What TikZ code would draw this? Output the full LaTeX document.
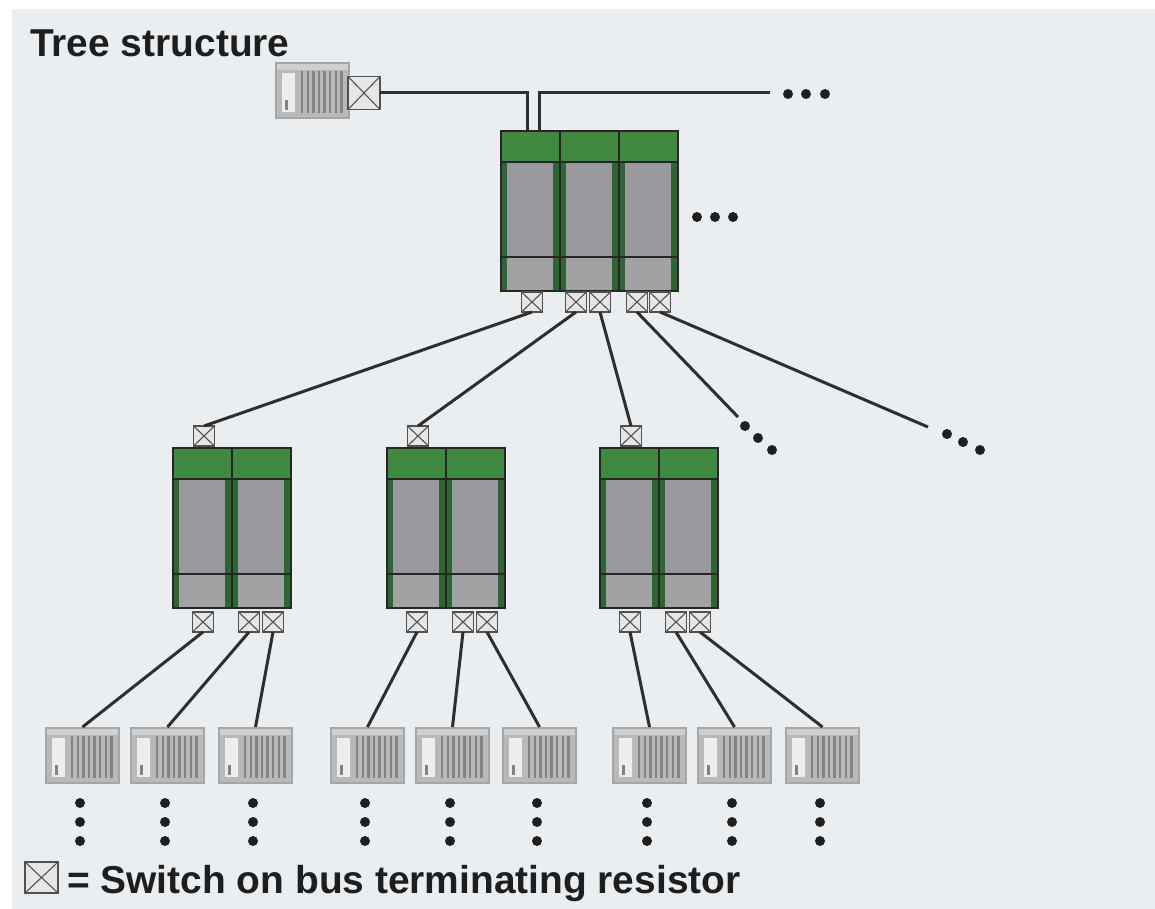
\documentclass[tikz,border=0pt]{standalone}
\usepackage{fontspec}
\setmainfont{Liberation Sans}
\definecolor{bg}{HTML}{EAEEF1}
\definecolor{grn}{HTML}{3F8A40}
\definecolor{dgrn}{HTML}{2E6534}
\definecolor{mgray}{HTML}{9A9A9E}
\definecolor{lgray}{HTML}{A2A2A4}
\definecolor{edge}{HTML}{262626}
\definecolor{wirec}{HTML}{2E2E2E}
\definecolor{devfill}{HTML}{B9B9B9}
\definecolor{devedge}{HTML}{A6A6A6}
\definecolor{devlight}{HTML}{CFCFCF}
\definecolor{stripe}{HTML}{838383}
\definecolor{swfill}{HTML}{E6E6E6}
\definecolor{swedge}{HTML}{505050}
\definecolor{txt}{HTML}{1E1E1E}
\newcommand\drawmodule[3]{%
  \foreach \c in {1,...,#3}{%
    \begin{scope}[shift={({#1+(\c-1)*59},#2)}]
      \fill[dgrn] (0,0) rectangle (59,160);
      \fill[grn] (0,0) rectangle (59,31);
      \fill[mgray] (6,31) rectangle (52,126);
      \fill[lgray] (6,126) rectangle (52,159);
      \draw[edge, line width=1.6pt] (0,31) -- (59,31) (0,126) -- (59,126);
    \end{scope}}
  \foreach \c in {2,...,#3} \draw[edge, line width=2pt] ({#1+(\c-1)*59},#2) -- ++(0,160);
  \draw[edge, line width=2.2pt] (#1,#2) rectangle ({#1+#3*59},{#2+160});
}
\newcommand\drawdevice[3]{%
  \begin{scope}[shift={(#1,#2)}]
    \fill[devfill] (0,0) rectangle (75,57);
    \fill[devlight] (0,0) rectangle (75,8);
    \fill[white!75!devfill] (7,11) rectangle (20,50);
    \fill[stripe] (10,38) rectangle (12.5,48);
    \foreach \i in {0,...,7} \fill[stripe] ({26+\i*5.6},9) rectangle ({28.3+\i*5.6},51);
    \draw[devedge, line width=2.5pt] (1,1) rectangle (74,56);
  \end{scope}
  \node[devnode] (#3) at (#1,#2) {};
}
\tikzset{
  sw/.style={draw=swedge, fill=swfill, line width=1.3pt, minimum width=21pt, minimum height=20pt,
    inner sep=0, outer sep=0,
    path picture={\draw[swedge, line width=1.1pt]
      (path picture bounding box.north west) -- (path picture bounding box.south east)
      (path picture bounding box.north east) -- (path picture bounding box.south west);}},
  bigsw/.style={sw, minimum width=32pt, minimum height=33pt},
  wire/.style={draw=wirec, line width=3pt},
  dot/.style={circle, fill=black!88, inner sep=0, minimum size=10pt},
  devnode/.style={anchor=north west, minimum width=75pt, minimum height=57pt, inner sep=0, outer sep=0},
  lbl/.style={anchor=base west, inner sep=0, text=txt, font=\fontsize{38.9}{46}\selectfont\bfseries},
}
\begin{document}
\begin{tikzpicture}[x=1pt,y=-1pt]
\useasboundingbox (0,0) rectangle (1155,909);
\fill[white] (0,0) rectangle (1155,909);
\fill[bg] (12,9) rectangle (1155,909);

% title
\node[lbl] (title) at (30,57) {Tree structure};

% top device and its switch
\drawdevice{275}{62}{d0}
\node[bigsw] (s0) at (364,93) {};
\coordinate (m0a) at (527,131);
\coordinate (m0b) at (539,131);
\coordinate (e0) at (770,93);
\draw[wire] (s0.east) -| (m0a);
\draw[wire] (m0b) |- (e0);
\node[dot] (dt1) at (788,94) {};
\node[dot] (dt2) at (806,94) {};
\node[dot] (dt3) at (825,94) {};

% main module
\drawmodule{501}{131}{3}
\node[dot] (ds1) at (697,217) {};
\node[dot] (ds2) at (715,217) {};
\node[dot] (ds3) at (733,217) {};
\node[sw] (ms1) at (532,302) {};
\node[sw] (ms2) at (576,302) {};
\node[sw] (ms3) at (600,302) {};
\node[sw] (ms4) at (637,302) {};
\node[sw] (ms5) at (660,302) {};

% sub modules
\foreach \k/\X in {1/173,2/387,3/600}{
  \drawmodule{\X}{448}{2}
  \node[sw] (t\k) at (\X+31,436) {};
  \node[sw] (b\k1) at (\X+30,622) {};
  \node[sw] (b\k2) at (\X+76,622) {};
  \node[sw] (b\k3) at (\X+100,622) {};
}

% main -> sub wires
\draw[wire] (ms1.south) -- (t1.north);
\draw[wire] (ms2.south) -- (t2.north);
\draw[wire] (ms3.south) -- (t3.north);
\coordinate (f1) at (738,417);
\coordinate (f2) at (928,427);
\draw[wire] (ms4.south) -- (f1);
\draw[wire] (ms5.south) -- (f2);
\node[dot] (dd1) at (745,426) {};
\node[dot] (dd2) at (758,438) {};
\node[dot] (dd3) at (772,450) {};
\node[dot] (de1) at (947,434) {};
\node[dot] (de2) at (963,442) {};
\node[dot] (de3) at (980,450) {};

% devices and their wires
\foreach \k/\a/\b/\c in {1/45/130/218,2/330/415/502,3/612/697/785}{
  \drawdevice{\a}{727}{p\k1}
  \drawdevice{\b}{727}{p\k2}
  \drawdevice{\c}{727}{p\k3}
  \draw[wire] (b\k1.south) -- (p\k1.north);
  \draw[wire] (b\k2.south) -- (p\k2.north);
  \draw[wire] (b\k3.south) -- (p\k3.north);
  \foreach \j/\x in {1/\a,2/\b,3/\c}{
    \node[dot] (v\k\j a) at (\x+35,803) {};
    \node[dot] (v\k\j b) at (\x+35,822) {};
    \node[dot] (v\k\j c) at (\x+35,841) {};
  }
}

% legend
\node[bigsw, minimum width=33pt, minimum height=31pt] (legsw) at (41.5,877.5) {};
\node[lbl] (legtxt) at (67,893) {= Switch on bus terminating resistor};
\end{tikzpicture}
\end{document}
